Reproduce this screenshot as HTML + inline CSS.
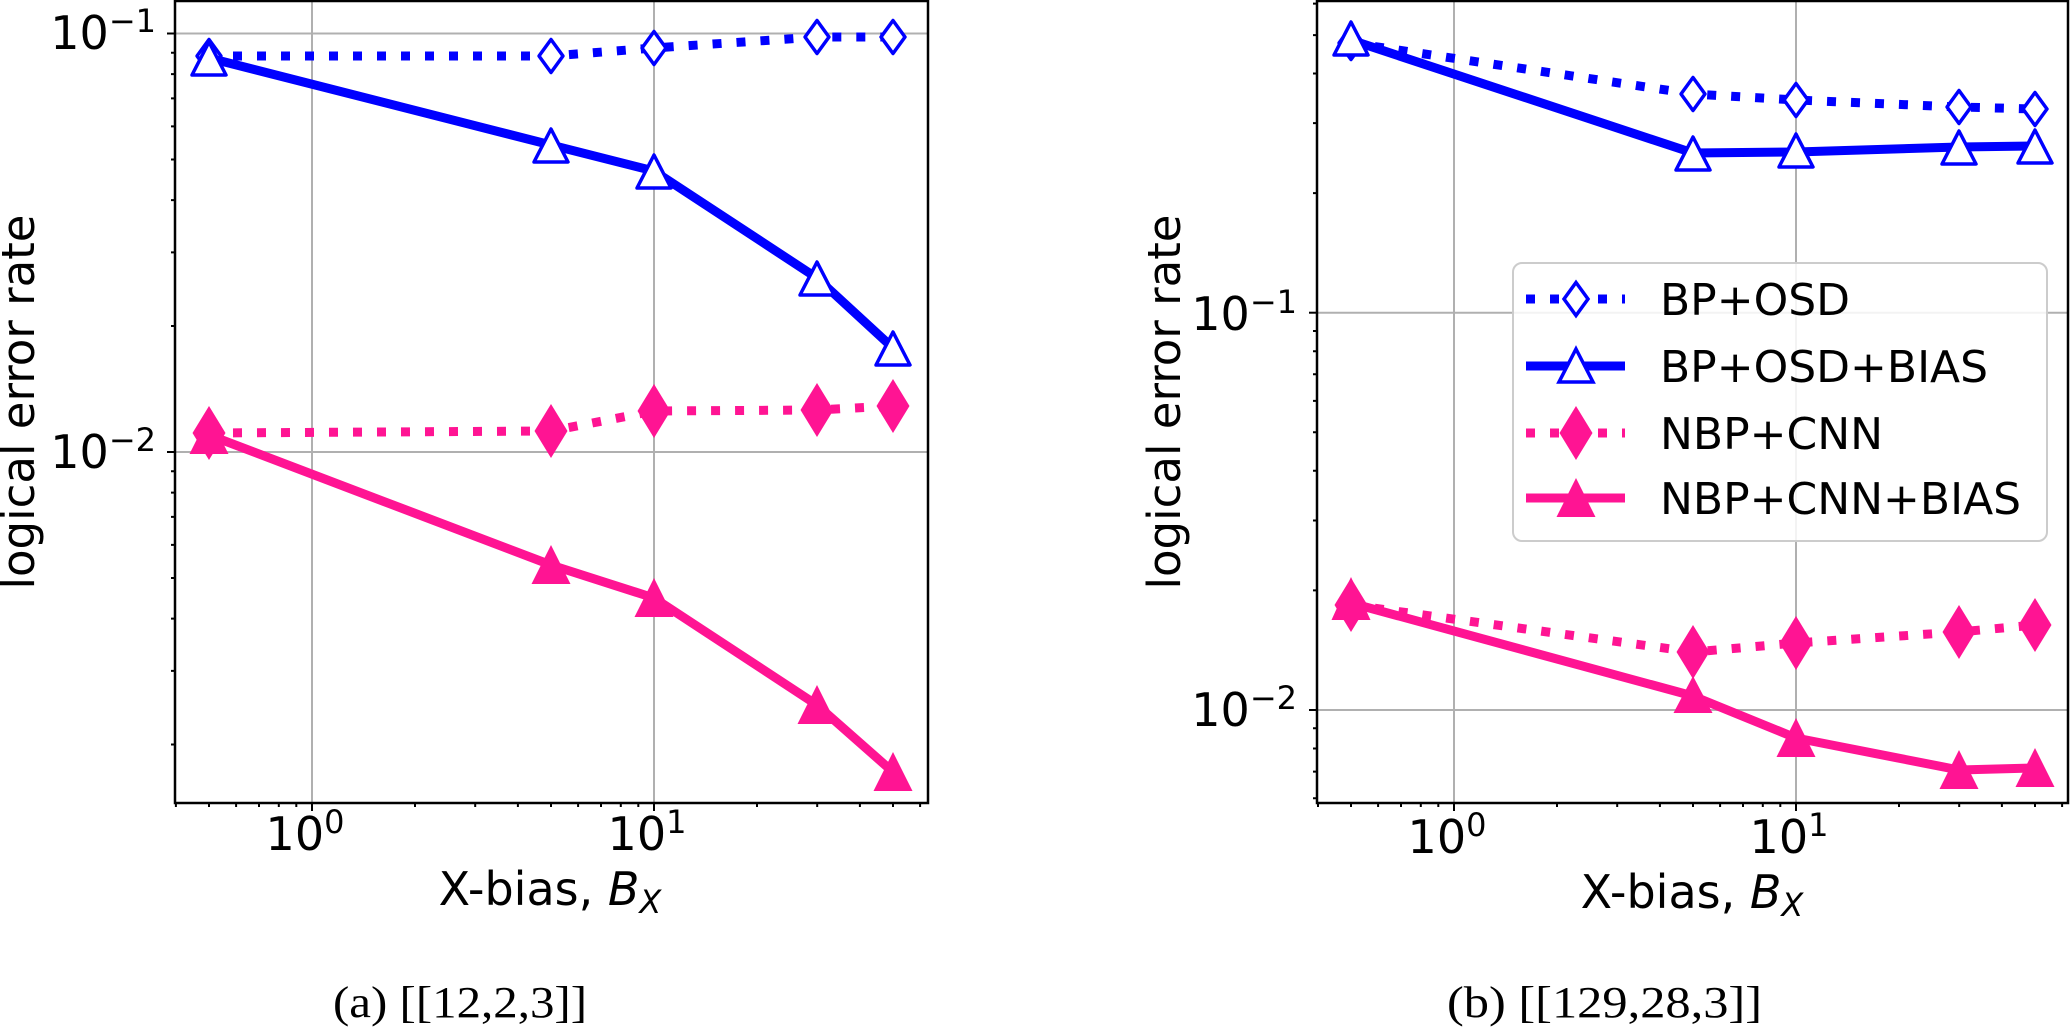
<!DOCTYPE html>
<html><head><meta charset="utf-8"><style>html,body{margin:0;padding:0;background:#fff}svg{display:block}</style></head>
<body>
<svg width="2070" height="1028" viewBox="0 0 2070 1028" xmlns="http://www.w3.org/2000/svg" font-family="'DejaVu Sans','Liberation Sans',sans-serif">
<rect width="2070" height="1028" fill="#fff"/>
<!-- LEFT PLOT -->
<g stroke="#b0b0b0" stroke-width="2">
<line x1="312" y1="1" x2="312" y2="803"/><line x1="654" y1="1" x2="654" y2="803"/>
<line x1="175" y1="33.5" x2="928" y2="33.5"/><line x1="175" y1="452" x2="928" y2="452"/>
</g>
<g stroke="#000" stroke-width="2">
<line x1="167" y1="33.5" x2="175" y2="33.5"/><line x1="167" y1="452" x2="175" y2="452"/>
<path d="M171 744.5H175M171 670.9H175M171 618.6H175M171 578H175M171 544.9H175M171 516.9H175M171 492.6H175M171 471.3H175M171 326H175M171 252.4H175M171 200.1H175M171 159.5H175M171 126.4H175M171 98.4H175M171 74.1H175M171 52.8H175"/>
<line x1="312" y1="803" x2="312" y2="811"/><line x1="654" y1="803" x2="654" y2="811"/>
<path d="M175.9 803V807M209 803V807M236.1 803V807M259 803V807M278.8 803V807M296.3 803V807M415 803V807M475.2 803V807M517.9 803V807M551 803V807M578.1 803V807M601 803V807M620.8 803V807M638.3 803V807M757 803V807M817.2 803V807M859.9 803V807M893 803V807M920.1 803V807"/>
</g>
<g fill="none" stroke-linejoin="round">
<polyline points="209,56 551,56 654,48 817,37 893,37" stroke="#0000ff" stroke-width="9" stroke-dasharray="9 15"/>
<g stroke="#0000ff" stroke-width="3.5" fill="#fff">
<polygon points="209,39.5 221,56 209,72.5 197,56"/><polygon points="551,39.5 563,56 551,72.5 539,56"/><polygon points="654,31.5 666,48 654,64.5 642,48"/><polygon points="817,20.5 829,37 817,53.5 805,37"/><polygon points="893,20.5 905,37 893,53.5 881,37"/>
</g>
<polyline points="209,58 551,145 654,171 817,278 893,348" stroke="#0000ff" stroke-width="9"/>
<g stroke="#0000ff" stroke-width="3.5" fill="#fff">
<polygon points="209,42 226,75 192,75"/><polygon points="551,129 568,162 534,162"/><polygon points="654,155 671,188 637,188"/><polygon points="817,262 834,295 800,295"/><polygon points="893,332 910,365 876,365"/>
</g>
<polyline points="209,433 551,431 654,411 817,410 893,406" stroke="#ff1493" stroke-width="9" stroke-dasharray="9 15"/>
<g fill="#ff1493" stroke="none">
<polygon points="209,406 225.5,433 209,460 192.5,433"/><polygon points="551,404 567.5,431 551,458 534.5,431"/><polygon points="654,384 670.5,411 654,438 637.5,411"/><polygon points="817,383 833.5,410 817,437 800.5,410"/><polygon points="893,379 909.5,406 893,433 876.5,406"/>
</g>
<polyline points="209,435 551,565 654,598 817,705 893,772" stroke="#ff1493" stroke-width="9"/>
<g fill="#ff1493" stroke="none">
<polygon points="209,415 228.5,454 189.5,454"/><polygon points="551,545 570.5,584 531.5,584"/><polygon points="654,578 673.5,617 634.5,617"/><polygon points="817,685 836.5,724 797.5,724"/><polygon points="893,752 912.5,791 873.5,791"/>
</g>
</g>
<rect x="175" y="1" width="753" height="802" fill="none" stroke="#000" stroke-width="2.5"/>
<g font-size="46" fill="#000">
<text x="156" y="49" text-anchor="end">10<tspan dy="-17" font-size="32">−1</tspan></text>
<text x="156" y="468" text-anchor="end">10<tspan dy="-17" font-size="32">−2</tspan></text>
<text x="305" y="850" text-anchor="middle">10<tspan dy="-17" font-size="32">0</tspan></text>
<text x="647" y="850" text-anchor="middle">10<tspan dy="-17" font-size="32">1</tspan></text>
<text x="550" y="905" text-anchor="middle">X-bias, <tspan font-style="italic">B</tspan><tspan font-style="italic" font-size="32" dy="8">X</tspan></text>
<text transform="translate(34,402) rotate(-90)" text-anchor="middle" font-size="45" textLength="375" lengthAdjust="spacingAndGlyphs">logical error rate</text>
</g>
<text x="333" y="1017" font-family="'Liberation Serif',serif" font-size="44" textLength="254" lengthAdjust="spacingAndGlyphs">(a) [[12,2,3]]</text>

<!-- RIGHT PLOT -->
<g stroke="#b0b0b0" stroke-width="2">
<line x1="1454" y1="1" x2="1454" y2="803"/><line x1="1796" y1="1" x2="1796" y2="803"/>
<line x1="1317" y1="312.7" x2="2068" y2="312.7"/><line x1="1317" y1="710" x2="2068" y2="710"/>
</g>
<g stroke="#000" stroke-width="2">
<line x1="1309" y1="312.7" x2="1317" y2="312.7"/><line x1="1309" y1="710" x2="1317" y2="710"/>
<path d="M1313 798.2H1317M1313 771.6H1317M1313 748.5H1317M1313 728.3H1317M1313 590.4H1317M1313 520.5H1317M1313 470.8H1317M1313 432.3H1317M1313 400.9H1317M1313 374.3H1317M1313 351.2H1317M1313 331H1317M1313 193.1H1317M1313 123.1H1317M1313 73.5H1317M1313 35.1H1317M1313 3.6H1317"/>
<line x1="1454" y1="803" x2="1454" y2="811"/><line x1="1796" y1="803" x2="1796" y2="811"/>
<path d="M1318 803V807M1351 803V807M1378.1 803V807M1401 803V807M1420.8 803V807M1438.3 803V807M1557 803V807M1617.2 803V807M1659.9 803V807M1693 803V807M1720.1 803V807M1743 803V807M1762.8 803V807M1780.3 803V807M1899 803V807M1959.2 803V807M2001.9 803V807M2035 803V807M2062.1 803V807"/>
</g>
<g fill="none" stroke-linejoin="round">
<polyline points="1351,43 1693,94 1796,100 1959,107 2035,109" stroke="#0000ff" stroke-width="9" stroke-dasharray="9 15"/>
<g stroke="#0000ff" stroke-width="3.5" fill="#fff">
<polygon points="1351,26.5 1363,43 1351,59.5 1339,43"/><polygon points="1693,77.5 1705,94 1693,110.5 1681,94"/><polygon points="1796,83.5 1808,100 1796,116.5 1784,100"/><polygon points="1959,90.5 1971,107 1959,123.5 1947,107"/><polygon points="2035,92.5 2047,109 2035,125.5 2023,109"/>
</g>
<polyline points="1351,40 1693,153 1796,152 1959,147 2035,146" stroke="#0000ff" stroke-width="9"/>
<g stroke="#0000ff" stroke-width="3.5" fill="#fff">
<polygon points="1351,22 1368,55 1334,55"/><polygon points="1693,137 1710,170 1676,170"/><polygon points="1796,134 1813,167 1779,167"/><polygon points="1959,131 1976,164 1942,164"/><polygon points="2035,130 2052,163 2018,163"/>
</g>
<polyline points="1351,605 1693,652 1796,643 1959,632 2035,625" stroke="#ff1493" stroke-width="9" stroke-dasharray="9 15"/>
<g fill="#ff1493" stroke="none">
<polygon points="1351,578 1367.5,605 1351,632 1334.5,605"/><polygon points="1693,625 1709.5,652 1693,679 1676.5,652"/><polygon points="1796,616 1812.5,643 1796,670 1779.5,643"/><polygon points="1959,605 1975.5,632 1959,659 1942.5,632"/><polygon points="2035,598 2051.5,625 2035,652 2018.5,625"/>
</g>
<polyline points="1351,603 1693,696 1796,738 1959,770 2035,768" stroke="#ff1493" stroke-width="9"/>
<g fill="#ff1493" stroke="none">
<polygon points="1351,577 1370.5,620 1331.5,620"/><polygon points="1693,676 1712.5,713 1673.5,713"/><polygon points="1796,718 1815.5,757 1776.5,757"/><polygon points="1959,750 1978.5,789 1939.5,789"/><polygon points="2035,748 2054.5,787 2015.5,787"/>
</g>
</g>
<rect x="1317" y="1" width="751" height="802" fill="none" stroke="#000" stroke-width="2.5"/>
<!-- legend -->
<rect x="1513" y="263" width="534" height="278" rx="9" fill="#fff" fill-opacity="0.85" stroke="#cccccc" stroke-width="2"/>
<g fill="none">
<line x1="1526" y1="299" x2="1625" y2="299" stroke="#0000ff" stroke-width="9" stroke-dasharray="9 15"/>
<polygon points="1576,282.5 1588,299 1576,315.5 1564,299" stroke="#0000ff" stroke-width="3.5" fill="#fff"/>
<line x1="1526" y1="366" x2="1625" y2="366" stroke="#0000ff" stroke-width="9"/>
<polygon points="1576,349 1593,382 1559,382" stroke="#0000ff" stroke-width="3.5" fill="#fff"/>
<line x1="1526" y1="433" x2="1625" y2="433" stroke="#ff1493" stroke-width="9" stroke-dasharray="9 15"/>
<polygon points="1576,406 1592.5,433 1576,460 1559.5,433" fill="#ff1493"/>
<line x1="1526" y1="498" x2="1625" y2="498" stroke="#ff1493" stroke-width="9"/>
<polygon points="1576,478 1595.5,517 1556.5,517" fill="#ff1493"/>
</g>
<g font-size="44" fill="#000">
<text x="1660" y="315">BP+OSD</text>
<text x="1660" y="382">BP+OSD+BIAS</text>
<text x="1660" y="449">NBP+CNN</text>
<text x="1660" y="514">NBP+CNN+BIAS</text>
</g>
<g font-size="46" fill="#000">
<text x="1297" y="330" text-anchor="end">10<tspan dy="-17" font-size="32">−1</tspan></text>
<text x="1297" y="726" text-anchor="end">10<tspan dy="-17" font-size="32">−2</tspan></text>
<text x="1447" y="853" text-anchor="middle">10<tspan dy="-17" font-size="32">0</tspan></text>
<text x="1789" y="853" text-anchor="middle">10<tspan dy="-17" font-size="32">1</tspan></text>
<text x="1692" y="908" text-anchor="middle">X-bias, <tspan font-style="italic">B</tspan><tspan font-style="italic" font-size="32" dy="8">X</tspan></text>
<text transform="translate(1180,402) rotate(-90)" text-anchor="middle" font-size="45" textLength="375" lengthAdjust="spacingAndGlyphs">logical error rate</text>
</g>
<text x="1447" y="1017" font-family="'Liberation Serif',serif" font-size="44" textLength="315" lengthAdjust="spacingAndGlyphs">(b) [[129,28,3]]</text>
</svg>
</body></html>
